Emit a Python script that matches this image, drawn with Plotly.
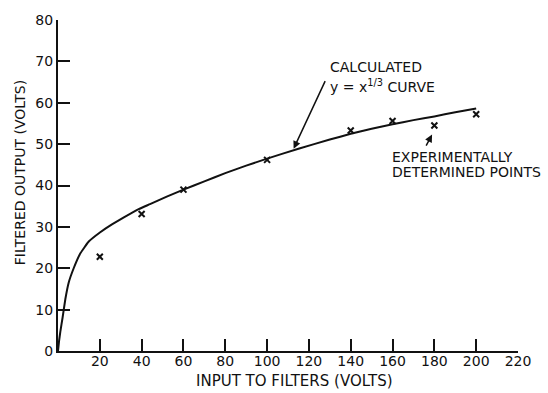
import plotly.graph_objects as go

# Calculated y = x^(1/3) curve
curve_x = [0, 0.5, 1.1, 2.2, 3.5, 5.1, 7.5, 10.7, 14.6, 20.2, 25.8, 31.5, 38.6, 44, 52, 60, 70, 80, 90, 100,
           115, 130, 140, 150, 160, 170, 180, 190, 200]
curve_y = [0, 2.4, 4.6, 8.1, 12.5, 16.5, 20.0, 23.6, 26.4, 28.7, 30.6, 32.3, 34.3, 35.5, 37.3, 39.0, 41.0, 43.0, 44.8,
           46.5, 48.9, 51.1, 52.5, 53.7, 54.8, 55.8, 56.7, 57.7, 58.6]

# Experimentally determined points
exp_x = [20, 40, 60, 100, 140, 160, 180, 200]
exp_y = [22.8, 33.1, 39.0, 46.2, 53.3, 55.6, 54.5, 57.2]

x_ticks = [20, 40, 60, 80, 100, 120, 140, 160, 180, 200, 220]
y_ticks = [0, 10, 20, 30, 40, 50, 60, 70, 80]

FONT = "DejaVu Sans"
INK = "#111111"

fig = go.Figure()
fig.add_trace(go.Scatter(x=curve_x, y=curve_y, mode="lines",
                         line=dict(color=INK, width=2, shape="spline", smoothing=0.3),
                         hoverinfo="skip", showlegend=False))
fig.add_trace(go.Scatter(x=exp_x, y=exp_y, mode="markers",
                         marker=dict(symbol="x-thin", size=6, line=dict(color=INK, width=2)),
                         showlegend=False))

fig.update_xaxes(range=[0, 220], tickvals=x_ticks, ticks="inside", ticklen=12, tickwidth=1.5, tickcolor=INK,
                 showline=True, linecolor=INK, linewidth=2, showgrid=False, zeroline=False,
                 ticklabelstandoff=-4,
                 tickfont=dict(family=FONT, size=14, color=INK))
fig.update_yaxes(range=[0, 80], tickvals=y_ticks, ticks="inside", ticklen=12, tickwidth=1.5, tickcolor=INK,
                 showline=True, linecolor=INK, linewidth=2, showgrid=False, zeroline=False,
                 tickfont=dict(family=FONT, size=14, color=INK))

# axis titles
fig.add_annotation(text="INPUT TO FILTERS (VOLTS)", xref="paper", yref="paper", x=0.514, y=-0.09,
                   showarrow=False, font=dict(family=FONT, size=15, color=INK),
                   xanchor="center", yanchor="middle")
fig.add_annotation(text="FILTERED OUTPUT (VOLTS)", xref="paper", yref="paper", x=-0.0826, y=0.537,
                   textangle=-90, showarrow=False, font=dict(family=FONT, size=14, color=INK),
                   xanchor="center", yanchor="middle")

# callouts
fig.add_annotation(text="CALCULATED", x=129.3, y=68.6, xref="x", yref="y",
                   xanchor="left", yanchor="middle", showarrow=False,
                   font=dict(family=FONT, size=14, color=INK))
fig.add_annotation(text="y = x<sup>1/3</sup> CURVE", x=129.3, y=64.0, xref="x", yref="y",
                   xanchor="left", yanchor="middle", showarrow=False,
                   font=dict(family=FONT, size=14, color=INK))
fig.add_annotation(text="", x=112.7, y=48.9, ax=128.1, ay=65.6, xref="x", yref="y", axref="x", ayref="y",
                   showarrow=True, arrowhead=2, arrowsize=1, arrowwidth=1.5, arrowcolor=INK)
fig.add_annotation(text="EXPERIMENTALLY", x=159, y=46.8, xref="x", yref="y",
                   xanchor="left", yanchor="middle", showarrow=False,
                   font=dict(family=FONT, size=14, color=INK))
fig.add_annotation(text="DETERMINED POINTS", x=159, y=43.3, xref="x", yref="y",
                   xanchor="left", yanchor="middle", showarrow=False,
                   font=dict(family=FONT, size=14, color=INK))
fig.add_annotation(text="", x=178.9, y=52.3, ax=175.7, ay=49.3, xref="x", yref="y", axref="x", ayref="y",
                   showarrow=True, arrowhead=2, arrowsize=1, arrowwidth=1.5, arrowcolor=INK)

fig.update_layout(width=548, height=393, margin=dict(l=58, r=30, t=14, b=42),
                  plot_bgcolor="white", paper_bgcolor="white")
fig.write_html("out.html", config={"displayModeBar": False},
               post_script="document.body.style.margin='0';document.body.style.overflow='hidden';")
